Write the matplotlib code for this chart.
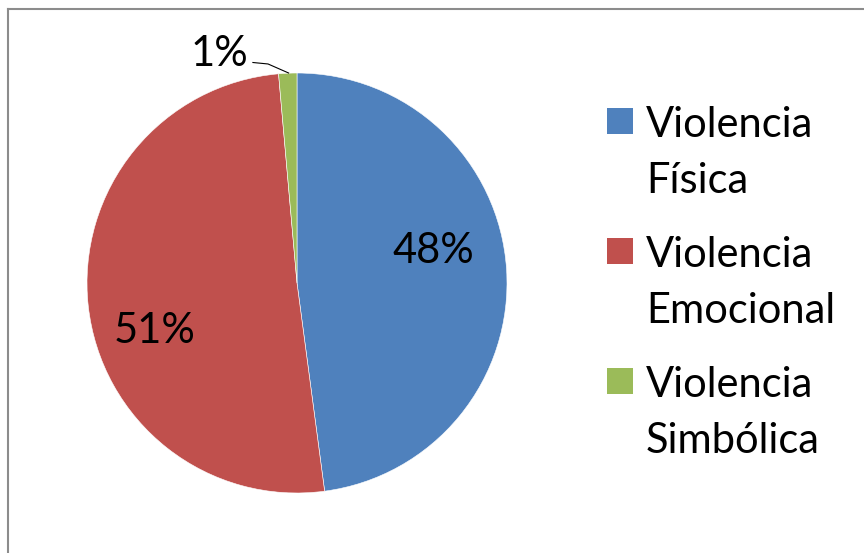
import matplotlib.pyplot as plt
from matplotlib.patches import Rectangle
from matplotlib.lines import Line2D

# data
categories = ["Violencia Física", "Violencia Emocional", "Violencia Simbólica"]
legend_lines = [["Violencia", "Física"], ["Violencia", "Emocional"], ["Violencia", "Simbólica"]]
values = [47.9, 50.7, 1.4]
colors = ["#4F81BD", "#C0504D", "#9BBB59"]

plt.rcParams['font.family'] = ['Lato', 'DejaVu Sans']
W, H = 864, 553
fig = plt.figure(figsize=(W / 100, H / 100), dpi=100)

# pie: centre (297, 283) px, radius 210 px
cx, cy, r = 297, 283, 210
ax = fig.add_axes([(cx - r) / W, 1 - (cy + r) / H, 2 * r / W, 2 * r / H])
wedges, _ = ax.pie(values, colors=colors, startangle=90, counterclock=False,
                   radius=1, wedgeprops=dict(edgecolor='white', linewidth=0.4))
ax.set_xlim(-1, 1)
ax.set_ylim(-1, 1)
ax.set_aspect('equal')
ax.axis('off')

total = sum(values)
pcts = ["%d%%" % round(v / total * 100) for v in values]
fs = 30
ax.text(0.65, 0.15, pcts[0], fontsize=fs, ha='center', va='center')
ax.text(-0.68, -0.23, pcts[1], fontsize=fs, ha='center', va='center')
ax.text(-0.37, 1.09, pcts[2], fontsize=fs, ha='center', va='center', clip_on=False)
ax.add_line(Line2D([-0.21, -0.138, -0.04], [1.05, 1.043, 1.0], color='black',
                   lw=0.8, clip_on=False))

# legend
for i, (lines, col) in enumerate(zip(legend_lines, colors)):
    base = 137 + 130 * i
    fig.patches.append(Rectangle((607 / W, 1 - (base - 3) / H), 26 / W, 26 / H,
                                 transform=fig.transFigure, facecolor=col,
                                 edgecolor='none'))
    fig.text(646 / W, 1 - base / H, lines[0], fontsize=fs, va='baseline', ha='left')
    fig.text(646 / W, 1 - (base + 56) / H, lines[1], fontsize=fs, va='baseline', ha='left')

# frame (only left and top edges visible)
fig.add_artist(Line2D([7.5 / W, 7.5 / W], [0, 1 - 9 / H], color='#8C8C8C', lw=1.5,
                      transform=fig.transFigure))
fig.add_artist(Line2D([7.5 / W, 1], [1 - 9 / H, 1 - 9 / H], color='#8C8C8C', lw=1.5,
                      transform=fig.transFigure))

fig.savefig("out.png", dpi=100)
